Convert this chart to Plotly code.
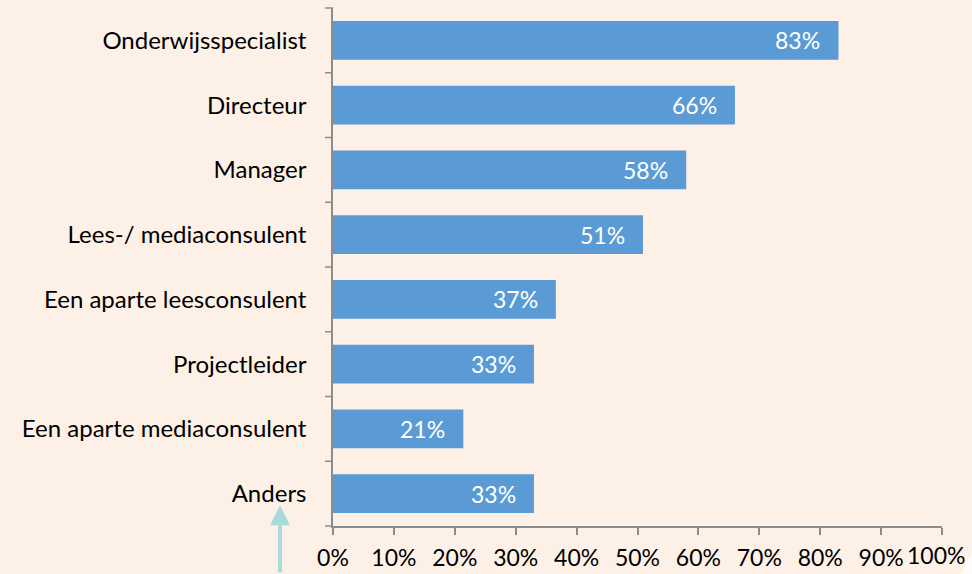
import plotly.graph_objects as go

categories = ["Onderwijsspecialist", "Directeur", "Manager", "Lees-/ mediaconsulent",
              "Een aparte leesconsulent", "Projectleider", "Een aparte mediaconsulent", "Anders"]
values = [83, 66, 58, 50.9, 36.6, 33, 21.4, 33]
labels = ["83%", "66%", "58%", "51%", "37%", "33%", "21%", "33%"]
x_ticks = [0, 10, 20, 30, 40, 50, 60, 70, 80, 90, 100]
x_tick_labels = [f"{v}%" for v in x_ticks]

BG = "#FDF0E7"
FONT = "Lato, 'Open Sans', sans-serif"

fig = go.Figure()
fig.add_trace(go.Bar(
    y=categories, x=values, orientation="h",
    marker=dict(color="#5B9BD5", line=dict(width=0)),
    hoverinfo="skip",
))

for c, v, t in zip(categories, values, labels):
    fig.add_annotation(x=v, y=c, text=t, showarrow=False, xanchor="right",
                       xshift=-16, font=dict(color="white", size=23, family=FONT))

# last tick label shifted inward to stay inside the canvas (as in the original)
fig.add_annotation(x=x_ticks[-1], xref="x", yref="paper", y=0, yshift=-13,
                   text=x_tick_labels[-1], showarrow=False, xanchor="center",
                   yanchor="top", xshift=-6, font=dict(size=23, family=FONT))

fig.add_annotation(xref="paper", yref="paper", x=-0.087, y=0.04,
                   showarrow=True, ax=0, ay=75, axref="pixel", ayref="pixel",
                   arrowhead=2, arrowsize=1, arrowwidth=4, arrowcolor="#A9DADB", text="")

fig.add_shape(type="path", xref="paper", yref="paper",
              path="M 1.03,-0.095 L 1.055,-0.095 L 1.055,-0.04 Z",
              fillcolor="white", line=dict(width=0), layer="below", opacity=0.7)

fig.update_layout(
    width=972, height=574,
    paper_bgcolor=BG, plot_bgcolor=BG,
    margin=dict(l=333, r=30, t=8, b=48, autoexpand=False),
    bargap=0.4, showlegend=False,
    font=dict(family=FONT, size=23, color="#000000"),
    xaxis=dict(range=[0, 100], tickvals=x_ticks,
               ticktext=x_tick_labels[:-1] + [""],
               showgrid=False, zeroline=False, showline=True, linecolor="#8C8C8C",
               linewidth=1.5, ticks="outside", ticklen=7, tickcolor="#8C8C8C",
               tickwidth=1.5, tickfont=dict(size=23), fixedrange=True, automargin=False,
               ticklabelstandoff=4),
    yaxis=dict(autorange="reversed", showgrid=False, zeroline=False, showline=True,
               linecolor="#8C8C8C", linewidth=1.5, ticks="", tickfont=dict(size=24),
               ticklabelstandoff=20, fixedrange=True, automargin=False),
)

# category-boundary ticks on the y axis
for i in range(len(categories) + 1):
    fig.add_shape(type="line", xref="paper", yref="paper",
                  x0=-8/609, x1=0, y0=1 - i/len(categories), y1=1 - i/len(categories),
                  line=dict(color="#8C8C8C", width=1.5))

fig.write_html("out.html", config={"displayModeBar": False},
               post_script="document.body.style.margin='0';")
